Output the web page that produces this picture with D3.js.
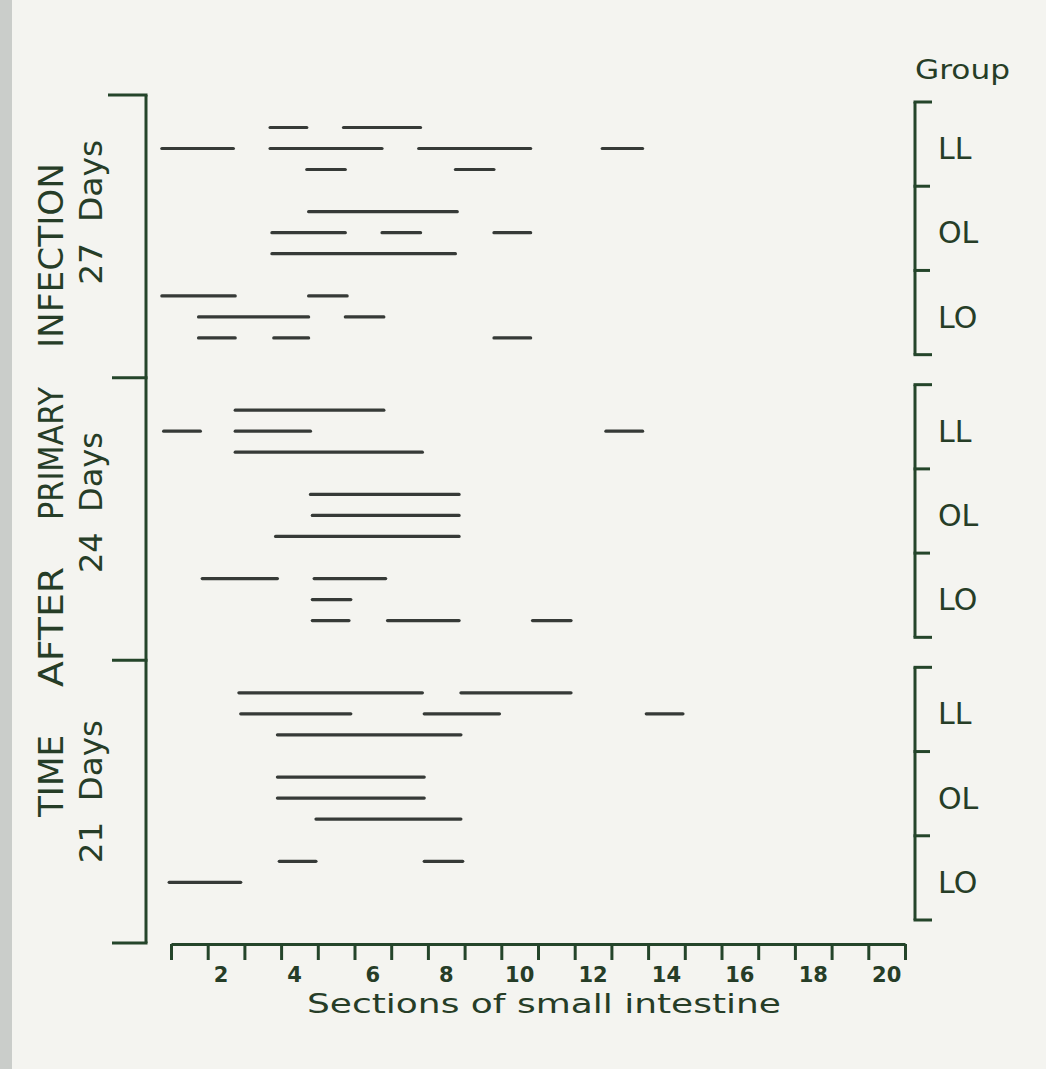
<!DOCTYPE html>
<html>
<head>
<meta charset="utf-8">
<script src="https://cdn.jsdelivr.net/npm/d3@7"></script>
<style>
  html, body { margin: 0; padding: 0; background: #f4f4f0; }
  svg { display: block; }
  text { font-family: "DejaVu Sans", sans-serif; fill: #263d27; }
</style>
</head>
<body>
<svg id="chart" width="1046" height="1069"></svg>
<script>
// ---- data ----
const panels = ["27 Days", "24 Days", "21 Days"];
const groups = ["LL", "OL", "LO"];
const rows = [0, 1, 2];
const titleWords = ["TIME", "AFTER", "PRIMARY", "INFECTION"];
const xTickValues = d3.range(0, 21);
const xLabelValues = [2, 4, 6, 8, 10, 12, 14, 16, 18, 20];
const xTitle = "Sections of small intestine";
const legendTitle = "Group";

// segments: [group, row, start, end] in section units
const segments27 = [
  ["LL", 0, 2.7, 3.7], ["LL", 0, 4.7, 6.8],
  ["LL", 1, -0.25, 1.7], ["LL", 1, 2.7, 5.75], ["LL", 1, 6.75, 9.8], ["LL", 1, 11.75, 12.85],
  ["LL", 2, 3.7, 4.75], ["LL", 2, 7.75, 8.8],
  ["OL", 0, 3.75, 7.8],
  ["OL", 1, 2.75, 4.75], ["OL", 1, 5.75, 6.8], ["OL", 1, 8.8, 9.8],
  ["OL", 2, 2.75, 7.75],
  ["LO", 0, -0.25, 1.75], ["LO", 0, 3.75, 4.8],
  ["LO", 1, 0.75, 3.75], ["LO", 1, 4.75, 5.8],
  ["LO", 2, 0.75, 1.75], ["LO", 2, 2.8, 3.75], ["LO", 2, 8.8, 9.8]
];
const segments24 = [
  ["LL", 0, 1.75, 5.8],
  ["LL", 1, -0.2, 0.8], ["LL", 1, 1.75, 3.8], ["LL", 1, 11.85, 12.85],
  ["LL", 2, 1.75, 6.85],
  ["OL", 0, 3.8, 7.85],
  ["OL", 1, 3.85, 7.85],
  ["OL", 2, 2.85, 7.85],
  ["LO", 0, 0.85, 2.9], ["LO", 0, 3.9, 5.85],
  ["LO", 1, 3.85, 4.9],
  ["LO", 2, 3.85, 4.85], ["LO", 2, 5.9, 7.85], ["LO", 2, 9.85, 10.9]
];
const segments21 = [
  ["LL", 0, 1.85, 6.85], ["LL", 0, 7.9, 10.9],
  ["LL", 1, 1.9, 4.9], ["LL", 1, 6.9, 8.95], ["LL", 1, 12.95, 13.95],
  ["LL", 2, 2.9, 7.9],
  ["OL", 0, 2.9, 6.9],
  ["OL", 1, 2.9, 6.9],
  ["OL", 2, 3.95, 7.9],
  ["LO", 0, 2.95, 3.95], ["LO", 0, 6.9, 7.95],
  ["LO", 1, -0.05, 1.9]
];
const segmentsByPanel = { "27 Days": segments27, "24 Days": segments24, "21 Days": segments21 };

// ---- layout ----
const svg = d3.select("#chart");
const axisColor = "#24452a";
const segColor = "#363a37";

// paper + left edge strip
svg.append("rect").attr("x", 0).attr("y", 0).attr("width", 1046).attr("height", 1069).attr("fill", "#f4f4f0");
svg.append("rect").attr("x", 0).attr("y", 0).attr("width", 12).attr("height", 1069).attr("fill", "#cacdca");

const x = d3.scaleLinear().domain([0, 20]).range([171, 905]);
const panelScale = d3.scaleBand().domain(panels).range([95, 943]);
const bracketTop = p => panelScale(p) + 7;
const bracketBottom = p => panelScale(p) + panelScale.bandwidth() - 23;
const groupScale = p => d3.scaleBand().domain(groups).range([bracketTop(p), bracketBottom(p)]);
const rowScale = d3.scalePoint().domain(rows).range([25.5, 67.5]);

// left bracket axis
const leftX = 146;
svg.append("line").attr("x1", leftX).attr("x2", leftX)
  .attr("y1", panelScale.range()[0]).attr("y2", panelScale.range()[1])
  .attr("stroke", axisColor).attr("stroke-width", 3);
const leftTicks = panels.map(p => panelScale(p)).concat([panelScale.range()[1]]);
svg.selectAll(".ltick").data(leftTicks).join("line")
  .attr("x1", (d, i) => i === 0 ? 108 : 112).attr("x2", leftX + 1.5)
  .attr("y1", d => d).attr("y2", d => d)
  .attr("stroke", axisColor).attr("stroke-width", 3);

// title words (rotated)
const wordCenters = { "TIME": 776, "AFTER": 627, "PRIMARY": 453.5, "INFECTION": 255.5 };
const wordLengths = { "TIME": 82, "AFTER": 120, "PRIMARY": 133, "INFECTION": 185 };
svg.selectAll(".tw").data(titleWords).join("text")
  .attr("transform", d => `translate(63,${wordCenters[d]}) rotate(-90)`)
  .attr("text-anchor", "middle")
  .attr("font-size", 34)
  .attr("textLength", d => wordLengths[d])
  .attr("lengthAdjust", "spacingAndGlyphs")
  .text(d => d);

// panel labels (rotated)
const dayLengths = { "27 Days": 145, "24 Days": 141, "21 Days": 143 };
const dayOffsets = { "27 Days": -24, "24 Days": -16.5, "21 Days": -10 };
svg.selectAll(".pl").data(panels).join("text")
  .attr("transform", p => `translate(102,${panelScale(p) + panelScale.bandwidth() / 2 + dayOffsets[p]}) rotate(-90)`)
  .attr("text-anchor", "middle")
  .attr("font-size", 32)
  .attr("textLength", p => dayLengths[p])
  .attr("lengthAdjust", "spacingAndGlyphs")
  .attr("xml:space", "preserve")
  .text(p => p.replace(" ", "  "));

// segments
panels.forEach(p => {
  const gs = groupScale(p);
  svg.append("g").selectAll("line").data(segmentsByPanel[p]).join("line")
    .attr("x1", d => x(d[2])).attr("x2", d => x(d[3]))
    .attr("y1", d => gs(d[0]) + rowScale(d[1]))
    .attr("y2", d => gs(d[0]) + rowScale(d[1]))
    .attr("stroke", segColor).attr("stroke-width", 3.2).attr("stroke-linecap", "round");
});

// right group brackets
const rightX = 915;
panels.forEach(p => {
  const gs = groupScale(p);
  const g = svg.append("g");
  g.append("line").attr("x1", rightX).attr("x2", rightX)
    .attr("y1", bracketTop(p)).attr("y2", bracketBottom(p))
    .attr("stroke", axisColor).attr("stroke-width", 3);
  const ticks = groups.map(k => gs(k)).concat([bracketBottom(p)]);
  g.selectAll("line.t").data(ticks).join("line").attr("class", "t")
    .attr("x1", rightX - 1.5).attr("x2", (d, i) => (i === 0 || i === 3) ? 932 : 930)
    .attr("y1", d => d).attr("y2", d => d)
    .attr("stroke", axisColor).attr("stroke-width", 3);
  g.selectAll("text").data(groups).join("text")
    .attr("x", 938).attr("y", k => gs(k) + gs.bandwidth() / 2 + 15)
    .attr("font-size", 30)
    .text(k => k);
});
svg.append("text").attr("x", 915).attr("y", 79).attr("font-size", 26)
  .attr("textLength", 95).attr("lengthAdjust", "spacingAndGlyphs").text(legendTitle);

// x axis
const xAxis = d3.axisBottom(x).tickValues(xTickValues).tickFormat("").tickSize(16).tickSizeOuter(0);
const ax = svg.append("g").attr("transform", "translate(0,944)").call(xAxis);
ax.select(".domain").attr("stroke", axisColor).attr("stroke-width", 3);
ax.selectAll(".tick line").attr("stroke", axisColor).attr("stroke-width", 3);

svg.selectAll(".xl").data(xLabelValues).join("text")
  .attr("x", d => x(d - 0.5) - (d < 6 ? 5 : 0)).attr("y", 982)
  .attr("text-anchor", "middle").attr("font-size", 21).attr("font-weight", "bold")
  .text(d => d);

svg.append("text").attr("x", (307 + 781) / 2).attr("y", 1013)
  .attr("text-anchor", "middle").attr("font-size", 26)
  .attr("textLength", 474).attr("lengthAdjust", "spacingAndGlyphs")
  .text(xTitle);
</script>
</body>
</html>
